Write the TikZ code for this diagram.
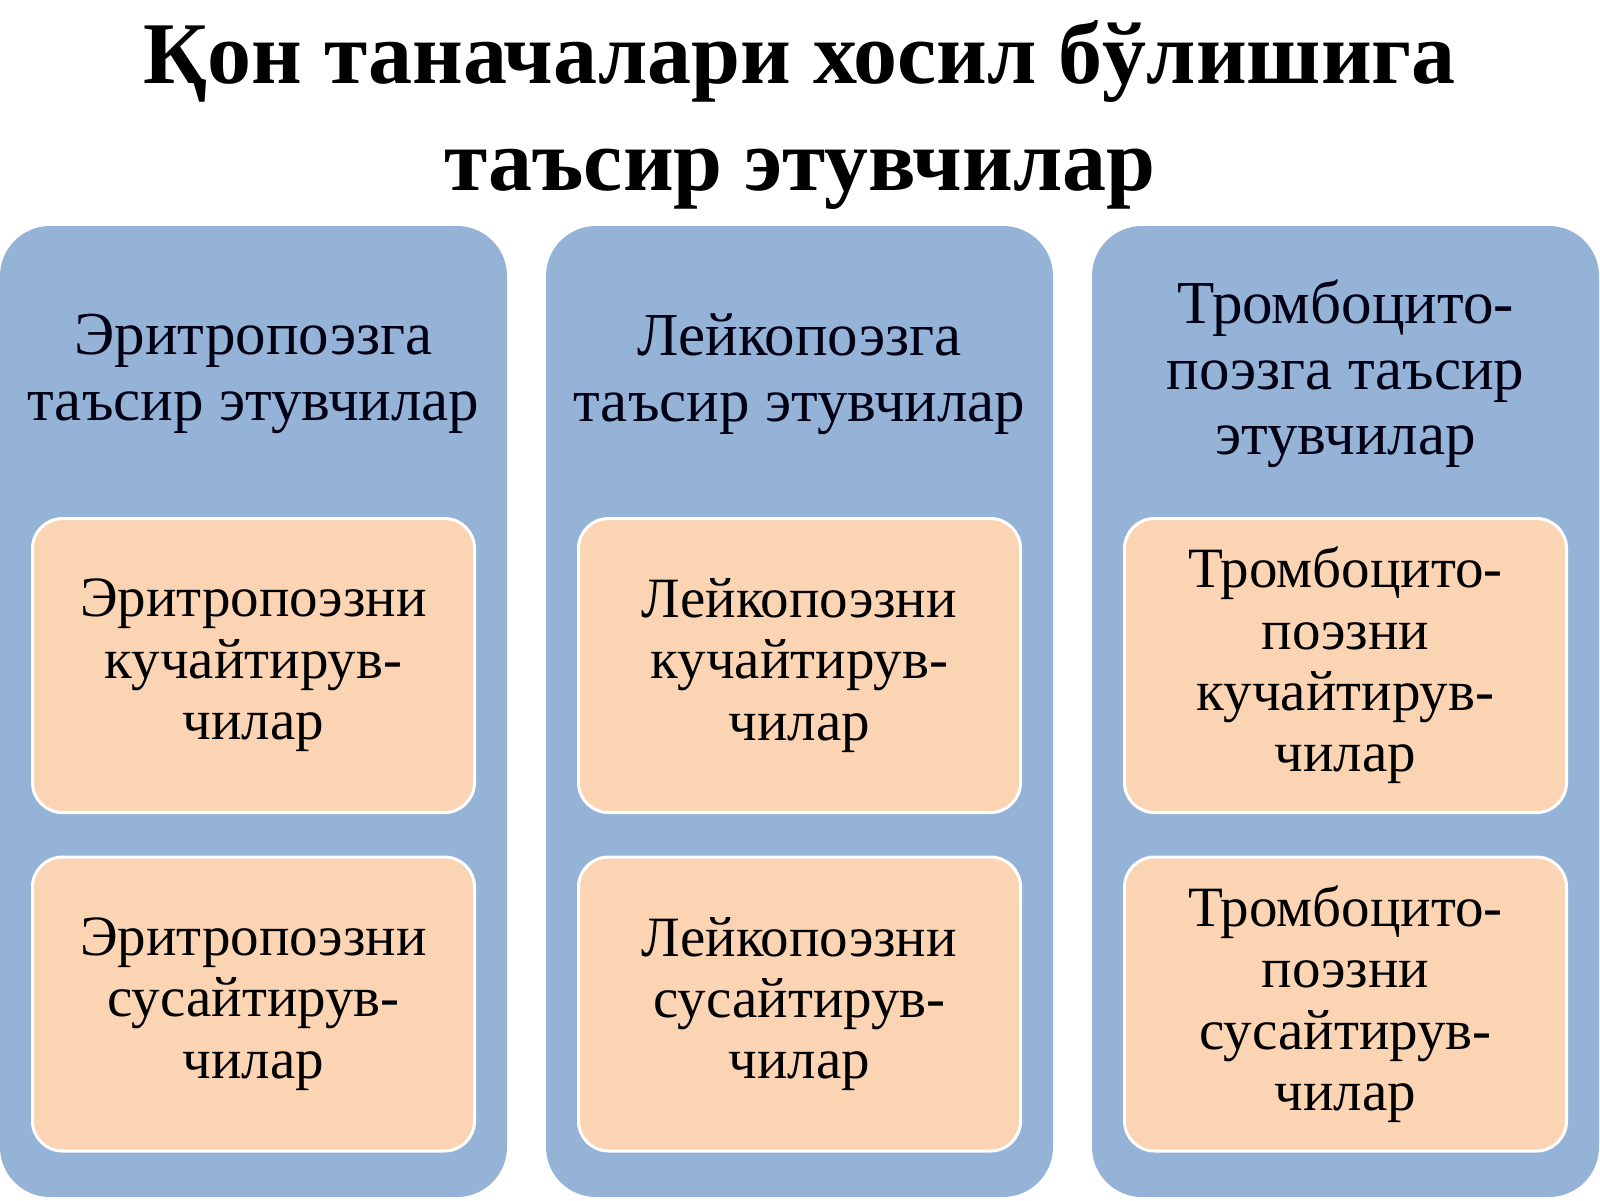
\documentclass[tikz,border=0pt]{standalone}
\usepackage{fontspec}
\setmainfont{Liberation Serif}
\definecolor{colblue}{HTML}{95B3D7}
\definecolor{boxpeach}{HTML}{FBD4B4}

\begin{document}
\begin{tikzpicture}[x=0.5pt,y=-0.5pt,
    column/.style={fill=colblue, rounded corners=25pt, inner sep=0pt,
      minimum width=253.5pt, minimum height=485.5pt},
    head/.style={align=center, text=black!92!blue,
      font=\fontsize{30.5}{32.7}\selectfont},
    inbox/.style={fill=boxpeach, draw=white, line width=1.5pt,
      rounded corners=15pt, minimum width=221pt, minimum height=147pt,
      align=center, font=\fontsize{28.5}{30.7}\selectfont}]

    \useasboundingbox (0,0) rectangle (1600,1200);

    \node[align=center, font=\bfseries\fontsize{44}{53.5}\selectfont] (title) at (800,115)
      {Қон таначалари хосил бўлишига\\таъсир этувчилар};

    % erythropoiesis
    \node[column] (erycol) at (253.5,711.5) {};
    \node[head] (eryhead) at (253.5,374) {Эритропоэзга\\таъсир этувчилар};
    \node[inbox] (eryup) at (253.5,665.5) {Эритропоэзни\\кучайтирув-\\чилар};
    \node[inbox] (erydown) at (253.5,1004) {Эритропоэзни\\сусайтирув-\\чилар};

    % leukopoiesis
    \node[column] (leucol) at (799.5,711.5) {};
    \node[head] (leuhead) at (799.5,374) {Лейкопоэзга\\таъсир этувчилар};
    \node[inbox] (leuup) at (799.5,665.5) {Лейкопоэзни\\кучайтирув-\\чилар};
    \node[inbox] (leudown) at (799.5,1004) {Лейкопоэзни\\сусайтирув-\\чилар};

    % thrombopoiesis
    \node[column] (trocol) at (1345.5,711.5) {};
    \node[head] (trohead) at (1345.5,374) {Тромбоцито-\\поэзга таъсир\\этувчилар};
    \node[inbox] (troup) at (1345.5,665.5) {Тромбоцито-\\поэзни\\кучайтирув-\\чилар};
    \node[inbox] (trodown) at (1345.5,1004) {Тромбоцито-\\поэзни\\сусайтирув-\\чилар};

  \end{tikzpicture}
\end{document}
